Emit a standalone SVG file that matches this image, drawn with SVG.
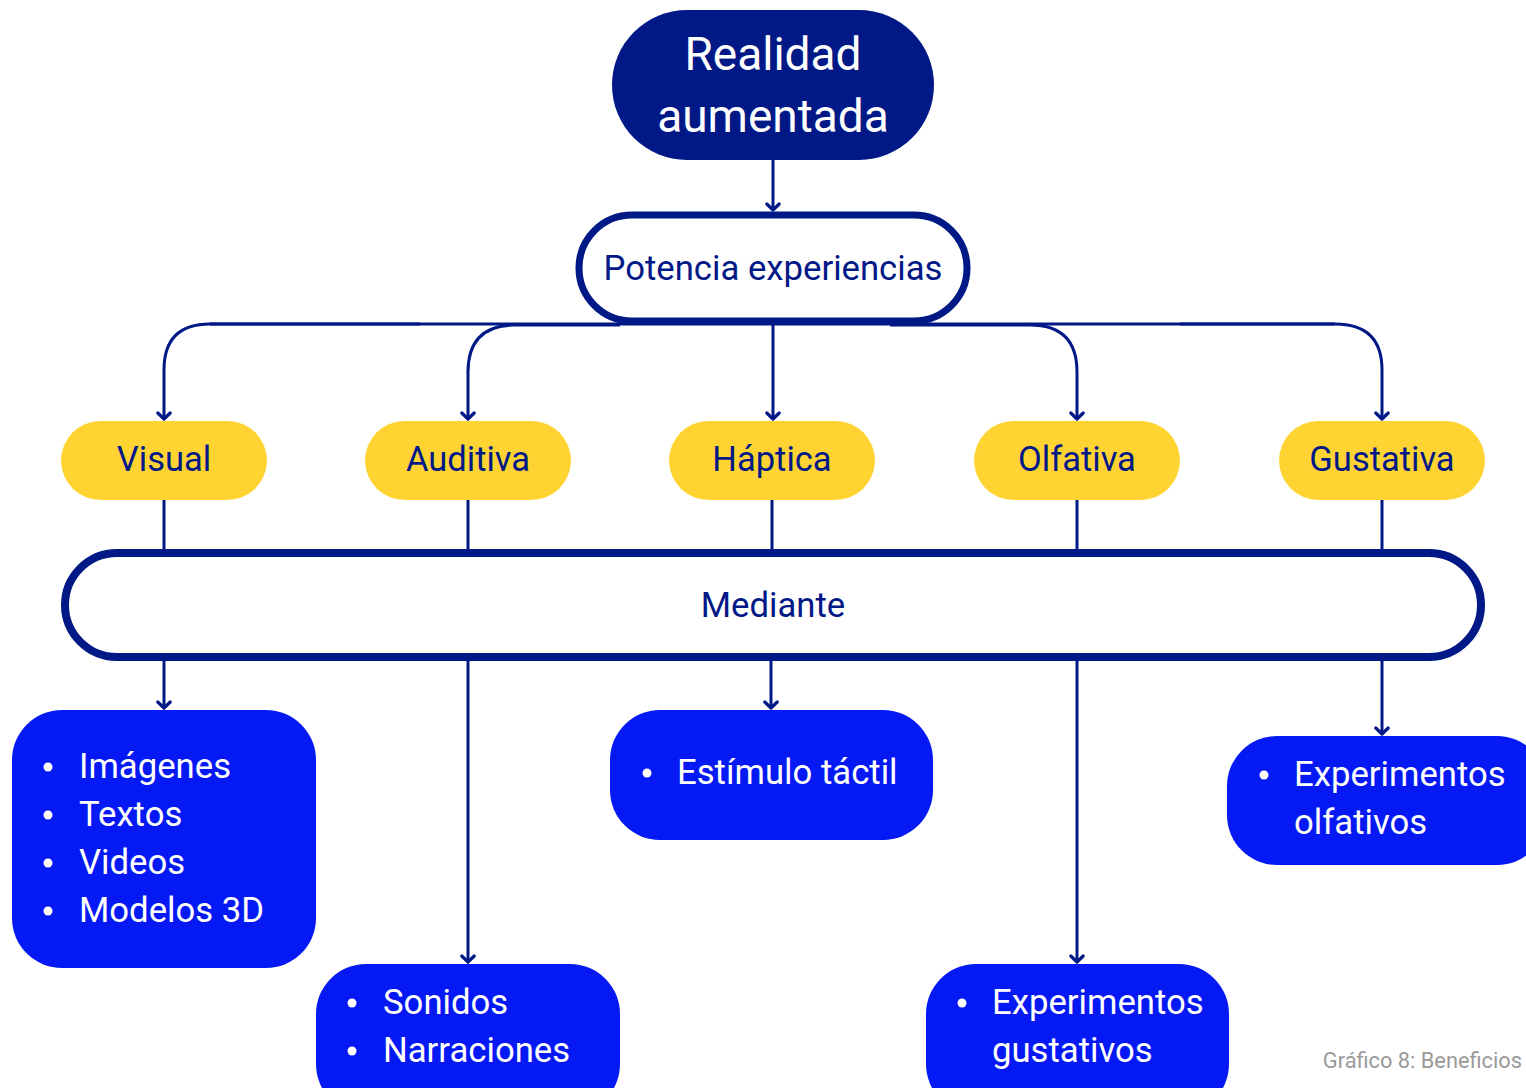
<svg xmlns="http://www.w3.org/2000/svg" width="1526" height="1088" viewBox="0 0 1526 1088">
<defs>
<marker id="arr" viewBox="0 0 10 16" refX="8.5" refY="8" markerWidth="10" markerHeight="16" markerUnits="userSpaceOnUse" orient="auto">
<path d="M2.5 1.8 L8.5 8 L2.5 14.2" fill="none" stroke="#011887" stroke-width="3.2" stroke-linecap="round" stroke-linejoin="round"/>
</marker>
<style>
text{font-family:Roboto,"Liberation Sans",Arial,sans-serif}
.c{fill:none;stroke:#011887;stroke-width:3}
.ca{fill:none;stroke:#011887;stroke-width:3;marker-end:url(#arr)}
.y{fill:#FFD432}
.yt{fill:#011887;font-size:34.5px;text-anchor:middle}
.b{fill:#0419F4}
.bt{fill:#ffffff;font-size:34.7px}
.o{fill:#ffffff;stroke:#011887}
</style>
</defs>
<rect width="1526" height="1088" fill="#ffffff"/>
<g id="connectors">
<path class="ca" d="M773 160 V210"/>
<path class="c" d="M210 324 H1335"/>
<path class="ca" d="M420 324 H210 Q164 324 164 370 V419"/>
<path class="ca" d="M620 325 H515 Q468 325 468 372 V419"/>
<path class="ca" d="M773 322 V419"/>
<path class="ca" d="M890 325 H1030 Q1077 325 1077 372 V419"/>
<path class="ca" d="M1180 324 H1335 Q1382 324 1382 370 V419"/>
<path class="c" d="M164 500 V552 M468 500 V552 M772 500 V552 M1077 500 V552 M1382 500 V552"/>
<path class="ca" d="M164 660 V708"/>
<path class="ca" d="M468 660 V962"/>
<path class="ca" d="M771 660 V708"/>
<path class="ca" d="M1077 660 V962"/>
<path class="ca" d="M1382 660 V734"/>
</g>
<g id="realidad">
<rect x="612" y="10" width="322" height="150" rx="75" fill="#011887"/>
<text x="773" y="70" fill="#ffffff" font-size="46" text-anchor="middle">Realidad</text>
<text x="773" y="132" fill="#ffffff" font-size="46" text-anchor="middle">aumentada</text>
</g>
<g id="potencia">
<rect class="o" x="579" y="215" width="388" height="106" rx="53" stroke-width="7"/>
<text x="773" y="280" fill="#011887" font-size="34.7" text-anchor="middle">Potencia experiencias</text>
</g>
<g id="visual"><rect class="y" x="61" y="421" width="206" height="79" rx="39.5"/><text class="yt" x="164" y="471">Visual</text></g>
<g id="auditiva"><rect class="y" x="365" y="421" width="206" height="79" rx="39.5"/><text class="yt" x="468" y="471">Auditiva</text></g>
<g id="haptica"><rect class="y" x="669" y="421" width="206" height="79" rx="39.5"/><text class="yt" x="772" y="471">Háptica</text></g>
<g id="olfativa"><rect class="y" x="974" y="421" width="206" height="79" rx="39.5"/><text class="yt" x="1077" y="471">Olfativa</text></g>
<g id="gustativa"><rect class="y" x="1279" y="421" width="206" height="79" rx="39.5"/><text class="yt" x="1382" y="471">Gustativa</text></g>
<g id="mediante">
<rect class="o" x="65" y="553" width="1416" height="104" rx="52" stroke-width="8"/>
<text x="773" y="617" fill="#011887" font-size="34.7" text-anchor="middle">Mediante</text>
</g>
<g id="visual-items">
<rect class="b" x="12" y="710" width="304" height="258" rx="50"/>
<circle cx="48" cy="767" r="4.5" fill="#fff"/><text class="bt" x="79" y="778">Imágenes</text>
<circle cx="48" cy="815" r="4.5" fill="#fff"/><text class="bt" x="79" y="826">Textos</text>
<circle cx="48" cy="863" r="4.5" fill="#fff"/><text class="bt" x="79" y="874">Videos</text>
<circle cx="48" cy="911" r="4.5" fill="#fff"/><text class="bt" x="79" y="922">Modelos 3D</text>
</g>
<g id="auditiva-items">
<rect class="b" x="316" y="964" width="304" height="150" rx="50"/>
<circle cx="352" cy="1003" r="4.5" fill="#fff"/><text class="bt" x="383" y="1014">Sonidos</text>
<circle cx="352" cy="1051" r="4.5" fill="#fff"/><text class="bt" x="383" y="1062">Narraciones</text>
</g>
<g id="haptica-items">
<rect class="b" x="610" y="710" width="323" height="130" rx="50"/>
<circle cx="647" cy="773" r="4.5" fill="#fff"/><text class="bt" x="677" y="784">Estímulo táctil</text>
</g>
<g id="olfativa-items">
<rect class="b" x="926" y="964" width="303" height="150" rx="50"/>
<circle cx="962" cy="1003" r="4.5" fill="#fff"/><text class="bt" x="992" y="1014">Experimentos</text>
<text class="bt" x="992" y="1062">gustativos</text>
</g>
<g id="gustativa-items">
<rect class="b" x="1227" y="736" width="320" height="129" rx="50"/>
<circle cx="1264" cy="775" r="4.5" fill="#fff"/><text class="bt" x="1294" y="786">Experimentos</text>
<text class="bt" x="1294" y="834">olfativos</text>
</g>
<g id="caption">
<text x="1522" y="1068" fill="#9a9a9a" font-size="21.8" text-anchor="end">Gráfico 8: Beneficios</text>
</g>
</svg>
